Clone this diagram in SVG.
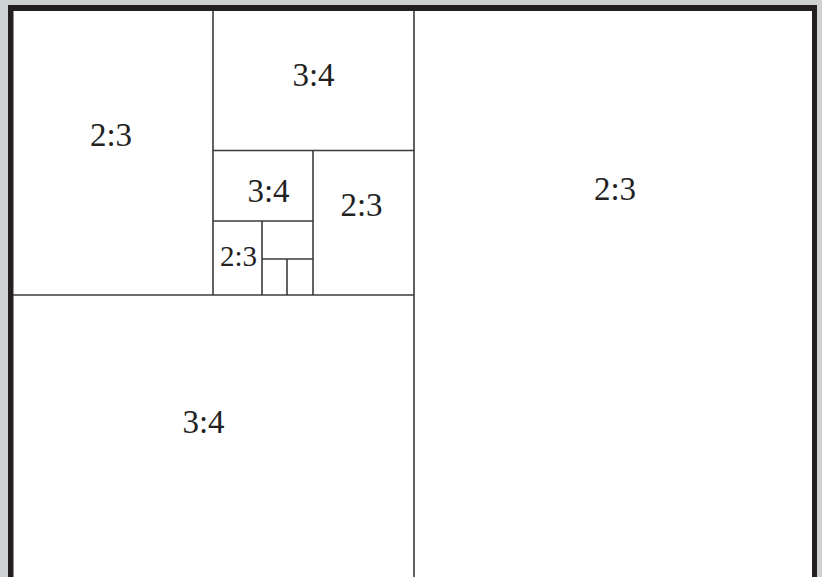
<svg xmlns="http://www.w3.org/2000/svg" width="822" height="577" viewBox="0 0 822 577">
<style>
.ln{stroke:#3a3a3a;stroke-width:1.6;fill:none}
.lb{font-family:"Liberation Serif","DejaVu Serif",serif;font-size:33px;fill:#222;text-anchor:middle}
</style>
<rect x="0" y="0" width="822" height="577" fill="#cfd0d2"/>
<rect x="8" y="5" width="809" height="580" fill="#231f20"/>
<rect x="13.5" y="11" width="798.5" height="570" fill="#ffffff"/>
<g id="connectors">
<line class="ln" x1="213" y1="11" x2="213" y2="295"/>
<line class="ln" x1="414" y1="11" x2="414" y2="577"/>
<line class="ln" x1="13" y1="295" x2="414" y2="295"/>
<line class="ln" x1="213" y1="150.5" x2="414" y2="150.5"/>
<line class="ln" x1="313" y1="150.5" x2="313" y2="295"/>
<line class="ln" x1="213" y1="221" x2="313" y2="221"/>
<line class="ln" x1="262" y1="221" x2="262" y2="295"/>
<line class="ln" x1="262" y1="259" x2="313" y2="259"/>
<line class="ln" x1="287" y1="259" x2="287" y2="295"/>
</g>
<g id="n1"><text class="lb" x="111" y="146">2:3</text></g>
<g id="n2"><text class="lb" x="313.5" y="86">3:4</text></g>
<g id="n3"><text class="lb" x="268.5" y="202">3:4</text></g>
<g id="n4"><text class="lb" x="361.5" y="216">2:3</text></g>
<g id="n5"><text class="lb" x="238.5" y="266" style="font-size:29px">2:3</text></g>
<g id="n6"><text class="lb" x="615" y="200">2:3</text></g>
<g id="n7"><text class="lb" x="203.5" y="433">3:4</text></g>
</svg>
